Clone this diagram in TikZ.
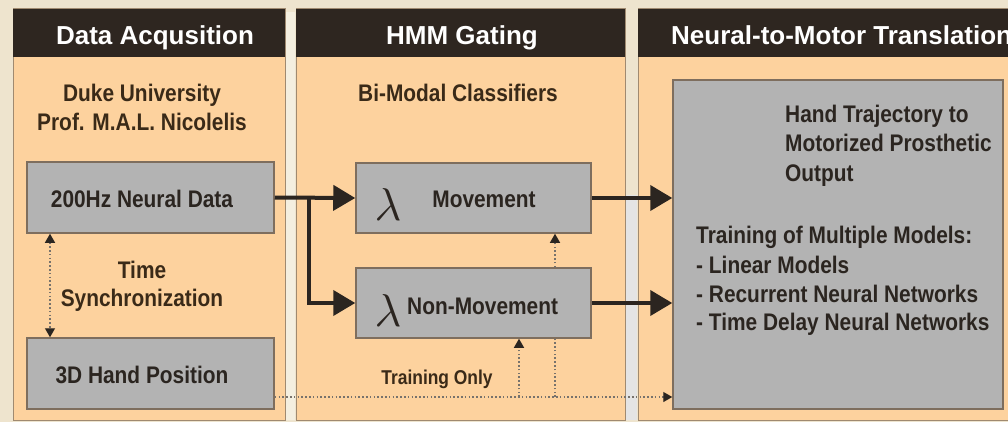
\documentclass[tikz,border=0pt]{standalone}
\usepackage{graphicx}
\usepackage{fontspec}
\newfontfamily\hdrfont{Liberation Sans}
\newfontfamily\bodyfont{Liberation Sans}[FakeStretch=0.87]
\usetikzlibrary{arrows.meta}
\definecolor{bgc}{HTML}{EEE4CE}
\definecolor{hdrc}{HTML}{2E2620}
\definecolor{peach}{HTML}{FDD29E}
\definecolor{boxg}{HTML}{B3B3B3}
\definecolor{boxb}{HTML}{7E6E5E}
\definecolor{txt}{HTML}{2B2520}
\definecolor{ttl}{HTML}{3A2A18}
\definecolor{dotc}{HTML}{77726C}
\definecolor{pbord}{HTML}{A08A70}
\definecolor{strip}{HTML}{E4E4E4}
\definecolor{strip1}{HTML}{F4EFE0}
\tikzset{
  panel/.style={fill=peach, draw=pbord, line width=1pt},
  hdrbar/.style={fill=hdrc},
  hdrtext/.style={text=white, font=\hdrfont\bfseries\fontsize{26}{30}\selectfont, inner sep=0pt, anchor=base},
  bodytext/.style={text=ttl, font=\bodyfont\bfseries\fontsize{24}{29}\selectfont, inner sep=0pt, anchor=base},
  boxtext/.style={text=txt, font=\bodyfont\bfseries\fontsize{24}{29}\selectfont, inner sep=0pt, anchor=base},
  smalltext/.style={text=ttl, font=\bodyfont\bfseries\fontsize{20}{24}\selectfont, inner sep=0pt, anchor=base},
  lam/.style={text=txt, inner sep=0pt, anchor=base},
  gbox/.style={fill=boxg, draw=boxb, line width=1.5pt, inner sep=0pt},
  thickarr/.style={draw=txt, line width=4pt, -{Triangle[length=22pt,width=25pt]}},
  thickline/.style={draw=txt, line width=4pt},
  dotline/.style={draw=dotc, line width=1.3pt, dash pattern=on 1.6pt off 2.2pt},
  dotarr/.style={dotline, -{Triangle[length=9pt,width=10pt,color=txt]}},
  dotarrboth/.style={dotline, {Triangle[length=9pt,width=10pt,color=txt]}-{Triangle[length=9pt,width=10pt,color=txt]}},
}
\begin{document}
\begin{tikzpicture}[x=1pt,y=-1pt]
\useasboundingbox (0,0) rectangle (1008,422);
\clip (0,0) rectangle (1008,422);
\fill[bgc] (0,0) rectangle (1008,422);

% panels
\path[panel] (13,9) rectangle (285,420);
\path[panel] (296,9) rectangle (625,420);
\path[panel] (638,9) rectangle (1020,420);
\fill[strip1] (286,12) rectangle (295,420);
\fill[strip] (626,195) rectangle (637,420);
\fill[hdrc] (13,9) rectangle (285,57);
\fill[hdrc] (296,9) rectangle (625,57);
\fill[hdrc] (638,9) rectangle (1020,57);

% headers
\node[hdrtext] (h1) at (155,45) {Data Acqusition};
\node[hdrtext] (h2) at (462,45) {HMM Gating};
\node[hdrtext, anchor=base west] (h3) at (671,45) {Neural-to-Motor Translation};

% column 1
\node[bodytext] (duke) at (142,102) {Duke University};
\node[bodytext] (prof) at (142,131) {Prof. M.A.L. Nicolelis};
\node[gbox, minimum width=247pt, minimum height=71pt] (neural) at (150.5,197.5) {};
\node[boxtext] (neuralt) at (142,207) {200Hz Neural Data};
\node[bodytext] (time) at (142,278) {Time};
\node[bodytext] (sync) at (142,306) {Synchronization};
\node[gbox, minimum width=247pt, minimum height=71pt] (hand) at (150.5,373.5) {};
\node[boxtext] (handt) at (142,383) {3D Hand Position};

% column 2
\node[bodytext] (bimodal) at (458,102) {Bi-Modal Classifiers};
\node[gbox, minimum width=235pt, minimum height=70pt] (move) at (473.5,198) {};
\node[lam] (lam1) at (388,220) {\scalebox{4.6}{$\lambda$}};
\node[boxtext] (movet) at (484,207) {Movement};
\node[gbox, minimum width=235pt, minimum height=70pt] (nonmove) at (473.5,303) {};
\node[lam] (lam2) at (388,326) {\scalebox{4.6}{$\lambda$}};
\node[boxtext, anchor=base west] (nonmovet) at (407,314) {Non-Movement};
\node[smalltext] (train) at (437,384) {Training Only};

% column 3
\node[gbox, minimum width=330pt, minimum height=329pt] (out) at (838,244.5) {};
\node[boxtext, anchor=base west] (o1) at (785,123) {Hand Trajectory to};
\node[boxtext, anchor=base west] (o2) at (785,152) {Motorized Prosthetic};
\node[boxtext, anchor=base west] (o3) at (785,182) {Output};
\node[boxtext, anchor=base west] (o4) at (696,243) {Training of Multiple Models:};
\node[boxtext, anchor=base west] (o5) at (696,273) {- Linear Models};
\node[boxtext, anchor=base west] (o6) at (696,302) {- Recurrent Neural Networks};
\node[boxtext, anchor=base west] (o7) at (696,330) {- Time Delay Neural Networks};

% connectors
\coordinate (br) at (309,197.5);
\draw[thickarr] (neural.east) -- (move.west);
\draw[thickline, -{Triangle[length=22pt,width=25pt]}] (br) |- (nonmove.west);
\draw[thickarr] (move.east) -- (move.east -| out.west);
\draw[thickarr] (nonmove.east) -- (nonmove.east -| out.west);

\coordinate (dl) at (0,397);
\coordinate (t1) at (519,397);
\coordinate (t2) at (555,397);
\coordinate (sx) at (50,0);
\draw[dotarr] (hand.east |- dl) -- (out.west |- dl);
\draw[dotarr] (t1) -- (t1 |- nonmove.south);
\draw[dotline] (t2) -- (t2 |- nonmove.south);
\draw[dotarr] (t2 |- nonmove.north) -- (t2 |- move.south);
\draw[dotarrboth] (neural.south -| sx) -- (hand.north -| sx);
\end{tikzpicture}
\end{document}
